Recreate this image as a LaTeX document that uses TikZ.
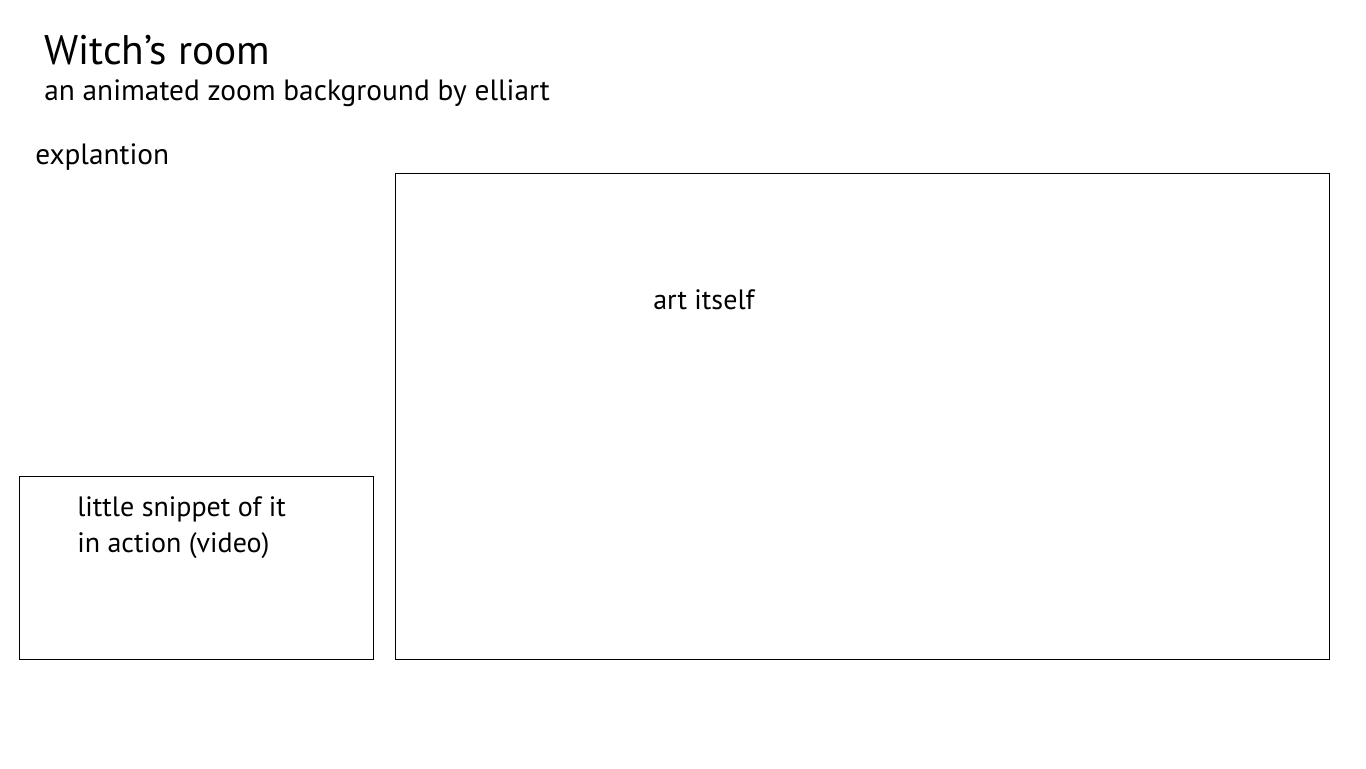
\documentclass[tikz,border=0pt]{standalone}
\usepackage{fontspec}
\setmainfont{PT Sans}
\begin{document}
\begin{tikzpicture}[x=0.75pt,y=-0.75pt,
  lbl/.style={anchor=base west,inner sep=0pt,font=\fontsize{21}{25}\selectfont},
  biglbl/.style={lbl,font=\fontsize{22}{26}\selectfont},
  frame/.style={draw=black,line width=0.75pt}]
\useasboundingbox[fill=white] (0,0) rectangle (1366,768);
\node[lbl,font=\fontsize{31}{36}\selectfont] (title) at (44,64) {Witch’s room};
\node[biglbl] (sub) at (44,100) {an animated zoom background by elliart};
\node[biglbl] (expl) at (35,164) {explantion};
\draw[frame] (395,173) rectangle (1329,659);
\node[lbl] (art) at (653,309) {art itself};
\draw[frame] (19,476) rectangle (373,659);
\node[lbl] (snip1) at (77,516) {little snippet of it};
\node[lbl] (snip2) at (77,552) {in action (video)};
\end{tikzpicture}
\end{document}
